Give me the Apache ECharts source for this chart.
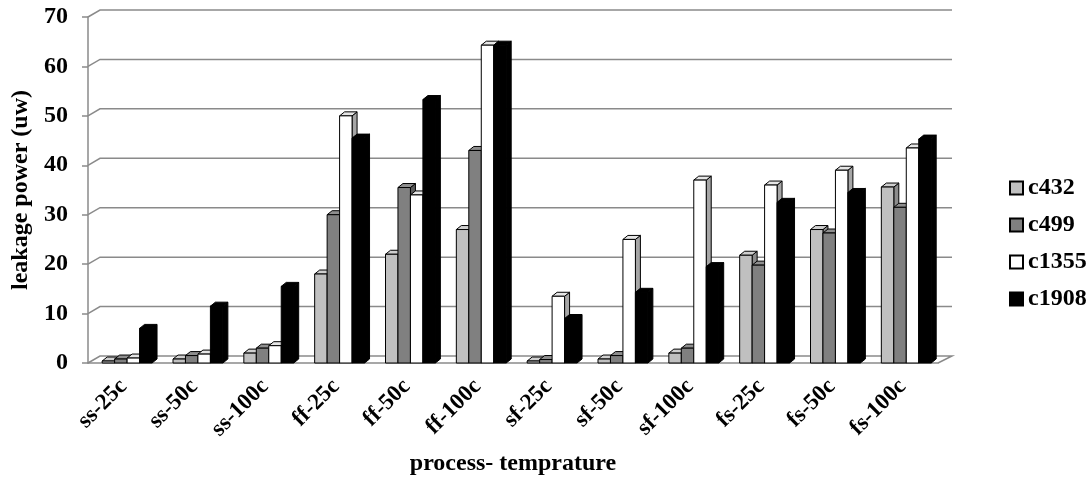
<!DOCTYPE html>
<html>
<head>
<meta charset="utf-8">
<title>leakage power</title>
<script src="https://cdn.jsdelivr.net/npm/echarts@6/dist/echarts.min.js"></script>
<style>
  html, body { margin: 0; padding: 0; background: #fff; }
  #chart { width: 1091px; height: 477px; }
</style>
</head>
<body>
<div id="chart"></div>
<script>
const categories = ['ss-25c', 'ss-50c', 'ss-100c', 'ff-25c', 'ff-50c', 'ff-100c', 'sf-25c', 'sf-50c', 'sf-100c', 'fs-25c', 'fs-50c', 'fs-100c']
const c432 = [0.4, 0.8, 2, 18, 22, 27, 0.4, 0.8, 2, 21.8, 27, 35.6]
const c499 = [0.8, 1.5, 3, 30, 35.5, 43, 0.7, 1.5, 3, 19.8, 26.3, 31.5]
const c1355 = [1, 1.8, 3.5, 50, 34, 64.3, 13.5, 25, 37, 36, 39, 43.5]
const c1908 = [7, 11.5, 15.5, 45.5, 53.3, 64.3, 9, 14.3, 19.5, 32.5, 34.5, 45.3]
const yTicks = [0, 10, 20, 30, 40, 50, 60, 70]

const font = "'Liberation Serif', 'DejaVu Serif', serif"
const gridGray = '#8a8a8a'

// front, top, side face colours
const seriesDefs = [
  { name: 'c432', data: c432, faces: ['#c0c0c0', '#cfcfcf', '#8c8c8c'] },
  { name: 'c499', data: c499, faces: ['#808080', '#8e8e8e', '#5a5a5a'] },
  { name: 'c1355', data: c1355, faces: ['#ffffff', '#e6e6e6', '#a6a6a6'] },
  { name: 'c1908', data: c1908, faces: ['#000000', '#000000', '#000000'] }
]

function barItem(idx, faces) {
  return function (params, api) {
    const cat = api.value(0)
    const base = api.coord([cat, 0])
    const top = api.coord([cat, api.value(1)])
    const band = api.size([1, 0])[0]
    const w = band * 0.176
    const x0 = base[0] - band / 2 + band * 0.2 + idx * w
    const x1 = x0 + w
    const yb = base[1]
    const yt = top[1]
    const dx = 5
    const dy = 4
    const edge = { stroke: '#000', lineWidth: 1, lineJoin: 'round' }
    return {
      type: 'group',
      children: [
        {
          type: 'polygon',
          shape: { points: [[x1, yb], [x1 + dx, yb - dy], [x1 + dx, yt - dy], [x1, yt]] },
          style: Object.assign({ fill: faces[2] }, edge)
        },
        {
          type: 'polygon',
          shape: { points: [[x0, yt], [x0 + dx, yt - dy], [x1 + dx, yt - dy], [x1, yt]] },
          style: Object.assign({ fill: faces[1] }, edge)
        },
        {
          type: 'rect',
          shape: { x: x0, y: yt, width: w, height: yb - yt },
          style: Object.assign({ fill: faces[0] }, edge)
        }
      ]
    }
  }
}

function wallItem(params, api) {
  const cs = params.coordSys
  const v = api.value(1)
  const y = api.coord([0, v])[1]
  const points = [[cs.x, y], [cs.x + 12, y - 7], [cs.x + cs.width + 14, y - 7]]
  if (v === 0) {
    points.push([cs.x + cs.width, y])
  }
  return {
    type: 'polyline',
    shape: { points: points },
    style: { stroke: gridGray, lineWidth: 1.5, fill: null }
  }
}

const chart = echarts.init(document.getElementById('chart'))

const series = [
  {
    type: 'custom',
    name: 'wall',
    silent: true,
    z: 1,
    renderItem: wallItem,
    data: yTicks.map(v => [0, v]),
    encode: { x: 0, y: 1 }
  }
]
seriesDefs.forEach((s, i) => {
  series.push({
    type: 'custom',
    name: s.name,
    z: 2,
    renderItem: barItem(i, s.faces),
    itemStyle: { color: s.faces[0], borderColor: '#000', borderWidth: 1 },
    data: s.data.map((v, j) => [j, v]),
    encode: { x: 0, y: 1 }
  })
})

chart.setOption({
  animation: false,
  backgroundColor: '#fff',
  grid: { left: 88, right: 153, top: 17, bottom: 114, containLabel: false, outerBoundsMode: 'none' },
  legend: {
    data: seriesDefs.map(s => s.name),
    orient: 'vertical',
    left: 1004,
    top: 171,
    icon: 'rect',
    itemWidth: 13,
    itemHeight: 13,
    itemGap: 13,
    textStyle: { fontFamily: font, fontWeight: 'bold', fontSize: 24, color: '#000' }
  },
  xAxis: {
    type: 'category',
    data: categories,
    name: 'process- temprature',
    nameLocation: 'middle',
    nameGap: 89,
    nameTextStyle: { fontFamily: font, fontWeight: 'bold', fontSize: 24, color: '#000' },
    axisLine: { lineStyle: { color: gridGray, width: 1.5 } },
    axisTick: { length: 5, lineStyle: { color: gridGray, width: 1.5 } },
    axisLabel: {
      interval: 0,
      rotate: 45,
      margin: 20,
      fontFamily: font,
      fontWeight: 'bold',
      fontSize: 23,
      color: '#000'
    }
  },
  yAxis: {
    type: 'value',
    min: 0,
    max: 70,
    interval: 10,
    name: 'leakage power (uw)',
    nameLocation: 'middle',
    nameGap: 55,
    nameTextStyle: { fontFamily: font, fontWeight: 'bold', fontSize: 24, color: '#000' },
    axisLine: { show: true, lineStyle: { color: gridGray, width: 1.5 } },
    axisTick: { show: true, length: 6, lineStyle: { color: gridGray, width: 1.5 } },
    splitLine: { show: false },
    axisLabel: { margin: 20, fontFamily: font, fontWeight: 'bold', fontSize: 24, color: '#000' }
  },
  series: series
})
</script>
</body>
</html>
